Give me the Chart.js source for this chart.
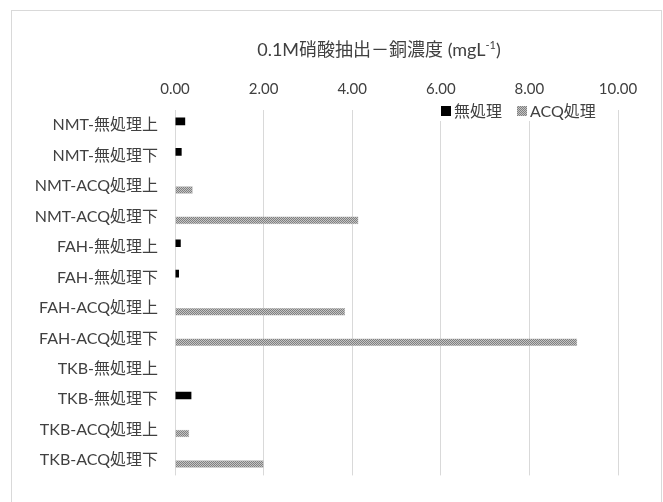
<!DOCTYPE html>
<html>
<head>
<meta charset="utf-8">
<script src="https://cdn.jsdelivr.net/npm/chart.js@4/dist/chart.umd.min.js"></script>
<style>
  html, body { margin: 0; padding: 0; background: #ffffff; }
  #c { display: block; }
</style>
</head>
<body>
<canvas id="c" width="663" height="502"></canvas>
<script>
// Sample rows (top to bottom)
const categories = [
  'NMT-無処理上', 'NMT-無処理下', 'NMT-ACQ処理上', 'NMT-ACQ処理下',
  'FAH-無処理上', 'FAH-無処理下', 'FAH-ACQ処理上', 'FAH-ACQ処理下',
  'TKB-無処理上', 'TKB-無処理下', 'TKB-ACQ処理上', 'TKB-ACQ処理下'
];
// Copper concentration (mg/L), 0.1M nitric acid extraction
const untreatedValues = [0.23, 0.15, null, null, 0.13, 0.09, null, null, 0, 0.37, null, null];
const acqValues       = [null, null, 0.40, 4.14, null, null, 3.84, 9.08, null, null, 0.32, 2.00];
const seriesNames = ['無処理', 'ACQ処理'];
const xTickValues = [0, 2, 4, 6, 8, 10];

const titleMain = '0.1M硝酸抽出－銅濃度 (mgL';
const titleSup = '-1';
const titleEnd = ')';

const FONT = 'Lato, "Noto Sans CJK JP", sans-serif';
const TEXT = '#404040';
const GRID = '#d9d9d9';

// Fine grey checker fill for the ACQ series
function makeChecker() {
  const p = document.createElement('canvas');
  p.width = 2; p.height = 2;
  const g = p.getContext('2d');
  g.fillStyle = '#c4c4c4';
  g.fillRect(0, 0, 2, 2);
  g.fillStyle = '#808080';
  g.fillRect(0, 0, 1, 1);
  g.fillRect(1, 1, 1, 1);
  return g.createPattern(p, 'repeat');
}
const checker = makeChecker();

// White page with thin frame
const framePlugin = {
  id: 'frame',
  beforeDraw(chart) {
    const ctx = chart.ctx;
    ctx.save();
    ctx.fillStyle = '#ffffff';
    ctx.fillRect(0, 0, chart.width, chart.height);
    ctx.strokeStyle = GRID;
    ctx.lineWidth = 1;
    ctx.strokeRect(11.5, 10.5, 650, 600);
    ctx.restore();
  }
};

// Title with superscript unit
const titlePlugin = {
  id: 'supTitle',
  afterDraw(chart) {
    const ctx = chart.ctx;
    ctx.save();
    const big = '18px ' + FONT, small = '11px ' + FONT;
    ctx.font = big;
    const w1 = ctx.measureText(titleMain).width;
    const w3 = ctx.measureText(titleEnd).width;
    ctx.font = small;
    const w2 = ctx.measureText(titleSup).width;
    const cx = 379, cy = 50;
    let x = cx - (w1 + w2 + w3) / 2;
    ctx.fillStyle = TEXT;
    ctx.textBaseline = 'middle';
    ctx.textAlign = 'left';
    ctx.font = big;
    ctx.fillText(titleMain, x, cy);
    x += w1;
    ctx.font = small;
    ctx.fillText(titleSup, x, cy - 5);
    x += w2;
    ctx.font = big;
    ctx.fillText(titleEnd, x, cy);
    ctx.restore();
  }
};

// Legend placed inside the plot, top right
const legendPlugin = {
  id: 'innerLegend',
  afterDraw(chart) {
    const ctx = chart.ctx;
    ctx.save();
    ctx.font = '16px ' + FONT;
    ctx.textBaseline = 'middle';
    ctx.textAlign = 'left';
    const cy = 111;
    let x = 441;
    const items = chart.data.datasets.map(ds => ({
      label: ds.label, fill: ds.backgroundColor, w: ctx.measureText(ds.label).width
    }));
    const total = items.reduce((s, it) => s + 14 + it.w, 0) + 14 * (items.length - 1);
    ctx.fillStyle = '#ffffff';
    ctx.fillRect(x - 2, cy - 10, total + 4, 20);
    items.forEach(it => {
      ctx.fillStyle = it.fill;
      ctx.fillRect(x, cy - 5, 10, 10);
      ctx.fillStyle = TEXT;
      ctx.fillText(it.label, x + 13, cy + 1);
      x += 13 + it.w + 15;
    });
    ctx.restore();
  }
};

new Chart(document.getElementById('c'), {
  type: 'bar',
  data: {
    labels: categories,
    datasets: [
      { label: seriesNames[0], data: untreatedValues, backgroundColor: '#000000', borderWidth: 0 },
      { label: seriesNames[1], data: acqValues, backgroundColor: checker, borderColor: '#a6a6a6', borderWidth: 0.5 }
    ]
  },
  options: {
    indexAxis: 'y',
    responsive: false,
    animation: false,
    devicePixelRatio: 1,
    datasets: { bar: { categoryPercentage: 0.5, barPercentage: 1.0 } },
    layout: { padding: { top: 80, right: 45, bottom: 4, left: 0 } },
    plugins: {
      legend: { display: false },
      title: { display: false },
      tooltip: { enabled: false }
    },
    scales: {
      x: {
        position: 'top',
        min: 0,
        max: 10,
        afterBuildTicks(scale) { scale.ticks = xTickValues.map(v => ({ value: v })); },
        afterFit(scale) { scale.height = 30; },
        ticks: {
          padding: 12,
          color: TEXT,
          font: { family: FONT, size: 15 },
          callback: v => Number(v).toFixed(2)
        },
        grid: { color: GRID, lineWidth: 1, drawTicks: false },
        border: { display: false }
      },
      y: {
        afterFit(scale) { scale.width = 175; },
        ticks: {
          padding: 17,
          color: TEXT,
          font: { family: FONT, size: 16 }
        },
        grid: { display: false, drawTicks: false },
        border: { display: false }
      }
    }
  },
  plugins: [framePlugin, titlePlugin, legendPlugin]
});
</script>
</body>
</html>
